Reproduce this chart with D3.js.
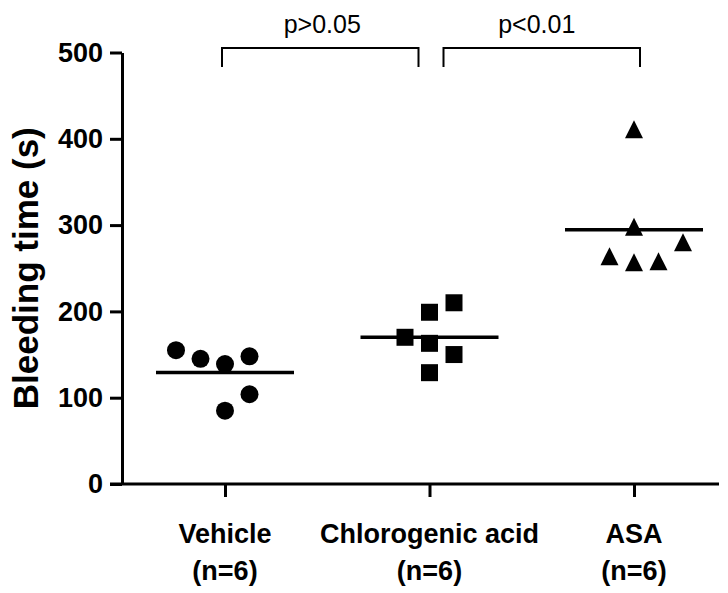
<!DOCTYPE html>
<html lang="en">
    <head>
        <meta charset="UTF-8">
        <title>Bleeding time</title>
        <script src="https://d3js.org/d3.v7.min.js"></script>
        <style>
            html, body {
                margin: 0;
                background-color: white;
            }
            svg {
                display: block;
                font-family: "Liberation Sans", Arial, sans-serif;
            }
            .tick text {
                font-size: 27px;
                font-weight: bold;
            }
        </style>
    </head>
    <body>
        <div id="container"></div>
        <script>

            const groups = ["Vehicle", "Chlorogenic acid", "ASA"];
            const groupN = [6, 6, 6];

            // bleeding time (s) per animal, and the column slot each dot sits in
            const vehicle = [155, 145, 139, 148, 104, 85];
            const vehicleSlot = [-2, -1, 0, 1, 1, 0];
            const chlorogenic = [170, 199, 210, 163, 150, 129];
            const chlorogenicSlot = [-1, 0, 1, 0, 1, 0];
            const asa = [411, 298, 280, 264, 257, 258];
            const asaSlot = [0, 0, 2, -1, 0, 1];

            const yTicks = [0, 100, 200, 300, 400, 500];

            const comparisons = [
                { from: "Vehicle", to: "Chlorogenic acid", label: "p>0.05" },
                { from: "Chlorogenic acid", to: "ASA", label: "p<0.01" }
            ];

            const width = 728;
            const height = 593;

            const series = [
                { name: groups[0], n: groupN[0], values: vehicle, slots: vehicleSlot, shape: "circle" },
                { name: groups[1], n: groupN[1], values: chlorogenic, slots: chlorogenicSlot, shape: "square" },
                { name: groups[2], n: groupN[2], values: asa, slots: asaSlot, shape: "triangle" }
            ];

            const svg = d3.select("#container")
                .append("svg")
                .attr("width", width)
                .attr("height", height);

            const x = d3.scalePoint()
                .domain(groups)
                .range([225, 634]);

            const y = d3.scaleLinear()
                .domain([0, 500])
                .range([484, 52.5]);

            // spread of dots inside a group
            const jitter = d3.scaleLinear()
                .domain([-1, 1])
                .range([-24.5, 24.5]);

            // isoceles triangle, as tall as it is wide
            const triangle = {
                draw(ctx, size) {
                    const r = Math.sqrt(size) / 2;
                    ctx.moveTo(0, -r);
                    ctx.lineTo(r, r);
                    ctx.lineTo(-r, r);
                    ctx.closePath();
                }
            };

            const symbols = {
                circle: d3.symbol().type(d3.symbolCircle).size(Math.PI * 9 * 9),
                square: d3.symbol().type(d3.symbolSquare).size(17 * 17),
                triangle: d3.symbol().type(triangle).size(18 * 18)
            };

            // y axis
            const yAxis = svg.append("g")
                .attr("transform", "translate(122,0)")
                .call(d3.axisLeft(y)
                    .tickValues(yTicks)
                    .tickSize(12)
                    .tickSizeOuter(0)
                    .tickPadding(7));

            yAxis.selectAll("line, path")
                .attr("stroke", "black")
                .attr("stroke-width", 3);
            yAxis.selectAll("text").attr("fill", "black");

            // x axis
            const xAxis = svg.append("g")
                .attr("transform", "translate(0,484)")
                .call(d3.axisBottom(x)
                    .tickSize(13)
                    .tickSizeOuter(0)
                    .tickFormat(""));

            xAxis.select(".domain").remove();
            xAxis.selectAll("line")
                .attr("stroke", "black")
                .attr("stroke-width", 3);

            xAxis.append("line")
                .attr("x1", 110)
                .attr("x2", 719)
                .attr("stroke", "black")
                .attr("stroke-width", 3);

            // category labels
            const labels = svg.append("g")
                .attr("font-size", 27)
                .attr("font-weight", "bold")
                .attr("text-anchor", "middle");

            series.forEach(s => {
                const t = labels.append("text")
                    .attr("x", x(s.name))
                    .attr("y", 543);
                t.append("tspan")
                    .attr("x", x(s.name))
                    .text(s.name);
                t.append("tspan")
                    .attr("x", x(s.name))
                    .attr("y", 580)
                    .text("(n=" + s.n + ")");
            });

            // y axis title
            svg.append("text")
                .attr("transform", "translate(38," + y(250) + ") rotate(-90)")
                .attr("text-anchor", "middle")
                .attr("font-size", 35)
                .attr("font-weight", "bold")
                .text("Bleeding time (s)");

            // dots
            series.forEach(s => {
                svg.append("g")
                    .selectAll("path")
                    .data(s.values)
                    .enter().append("path")
                    .attr("d", symbols[s.shape]())
                    .attr("transform", (d, i) => "translate(" + (x(s.name) + jitter(s.slots[i])) + "," + y(d) + ")")
                    .attr("fill", "black");

                const mean = d3.mean(s.values);
                svg.append("line")
                    .attr("x1", x(s.name) - 69)
                    .attr("x2", x(s.name) + 69)
                    .attr("y1", y(mean))
                    .attr("y2", y(mean))
                    .attr("stroke", "black")
                    .attr("stroke-width", 3.5);
            });

            // significance brackets
            comparisons.forEach((c, i) => {
                const x0 = i === 0 ? x(c.from) - 3 : x(c.from) + 14;
                const x1 = i === 0 ? x(c.to) - 11 : x(c.to) + 6;
                const top = 48;
                const bottom = 67;

                svg.append("path")
                    .attr("d", "M" + x0 + "," + bottom + "V" + top + "H" + x1 + "V" + bottom)
                    .attr("fill", "none")
                    .attr("stroke", "black")
                    .attr("stroke-width", 2);

                svg.append("text")
                    .attr("x", (x0 + x1) / 2 + (i === 0 ? 2 : -5))
                    .attr("y", 33)
                    .attr("text-anchor", "middle")
                    .attr("font-size", 25)
                    .text(c.label);
            });

        </script>
    </body>
</html>
